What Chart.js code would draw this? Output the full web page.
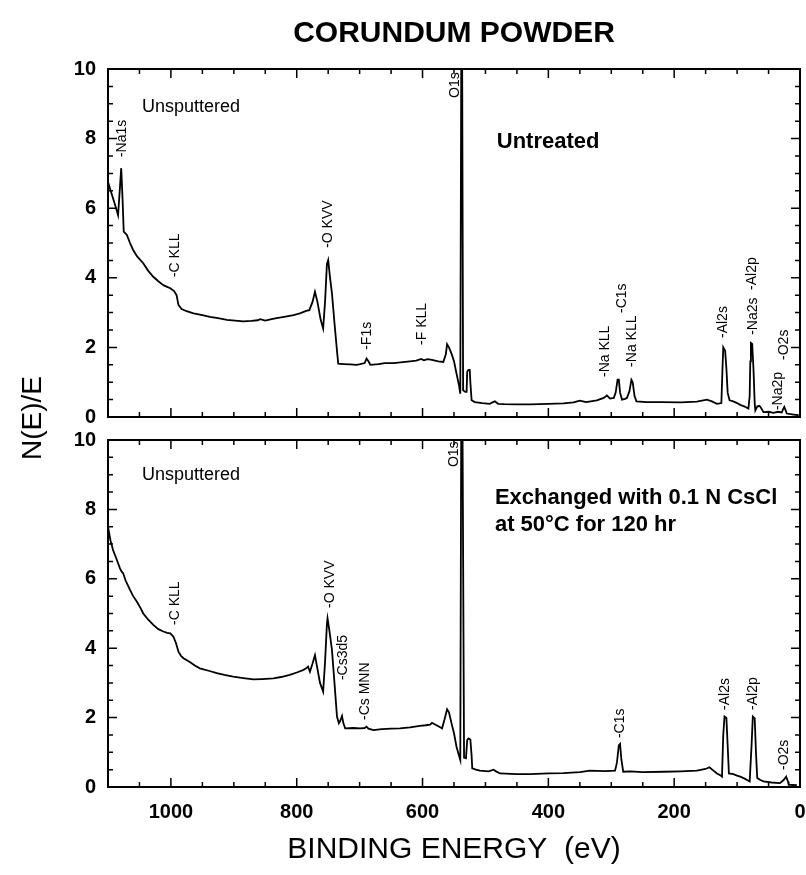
<!DOCTYPE html>
<html>
<head>
<meta charset="utf-8">
<script src="https://cdn.jsdelivr.net/npm/chart.js@4.4.0/dist/chart.umd.min.js"></script>
<style>
  html, body { margin: 0; padding: 0; background: #fff; }
  .panel { position: absolute; left: 0; top: 0; width: 806px; height: 875px; }
</style>
</head>
<body>
<div class="panel"><canvas id="untreated"></canvas></div>
<div class="panel"><canvas id="exchanged"></canvas></div>
<script>
// Binding energy (eV) and N(E)/E
const untreatedEnergy = [
  1100, 1094, 1088, 1084, 1081, 1079, 1077, 1075, 1070, 1065, 1060, 1054, 1044, 1036, 1028, 1020, 1012, 1006,
  1001, 995, 991, 988, 983, 975, 964, 950, 938, 925, 911, 898, 885, 872, 862, 858, 850, 840, 832, 820,
  805, 795, 785, 780, 775, 771, 767, 762, 758, 755, 752, 750, 747, 744, 740, 736, 734, 726, 715, 705,
  699, 692, 689, 686, 683, 670, 660, 646, 635, 620, 610, 602, 598, 592, 585, 575, 567, 563, 561, 558,
  554, 550, 546, 542, 540, 538.5, 537, 535.5, 532, 530, 529, 527, 525, 524, 522, 517, 505, 493, 488, 485,
  480, 470, 450, 429, 400, 376, 360, 350, 340, 323, 312, 307, 302, 296, 293, 290, 288, 286, 283, 278,
  275, 271, 268, 266, 263, 260, 244, 220, 190, 164, 148, 140, 132, 125, 123, 122, 119, 117, 115, 112,
  106, 100, 95, 88, 82, 80, 79, 78, 76, 74, 72, 71, 68, 65, 63, 58, 50, 42, 35, 29,
  27, 25, 23, 21, 10, 2,
];
const untreatedCounts = [
  6.75, 6.4, 6.05, 5.8, 6.6, 7.15, 6.33, 5.33, 5.23, 5.0, 4.8, 4.62, 4.42, 4.2, 4.03, 3.9, 3.79, 3.74,
  3.7, 3.62, 3.5, 3.22, 3.1, 3.04, 2.98, 2.93, 2.88, 2.84, 2.79, 2.77, 2.75, 2.76, 2.78, 2.81, 2.77, 2.81, 2.84, 2.88,
  2.93, 2.98, 3.05, 3.07, 3.3, 3.6, 3.3, 2.8, 2.54, 3.3, 4.4, 4.51, 4.0, 3.55, 2.7, 1.9, 1.53, 1.52, 1.51, 1.5,
  1.52, 1.55, 1.68, 1.6, 1.5, 1.52, 1.55, 1.55, 1.57, 1.6, 1.62, 1.67, 1.63, 1.66, 1.64, 1.6, 1.58, 1.8, 2.09, 2.0,
  1.82, 1.6, 1.25, 0.9, 0.67, 10, 10, 0.77, 0.72, 0.72, 1.3, 1.35, 1.35, 1.0, 0.48, 0.43, 0.4, 0.38, 0.43, 0.45,
  0.38, 0.37, 0.36, 0.36, 0.38, 0.39, 0.42, 0.47, 0.43, 0.48, 0.55, 0.62, 0.53, 0.55, 0.7, 1.07, 1.07, 0.7, 0.5, 0.52,
  0.55, 0.75, 1.07, 1.0, 0.6, 0.45, 0.43, 0.43, 0.42, 0.44, 0.5, 0.45, 0.38, 0.4, 1.5, 2.0, 1.9, 1.4, 0.7, 0.48,
  0.45, 0.4, 0.35, 0.3, 0.24, 0.6, 1.6, 2.13, 2.1, 1.4, 0.4, 0.19, 0.3, 0.32, 0.29, 0.14, 0.15, 0.12, 0.15, 0.13,
  0.22, 0.29, 0.2, 0.1, 0.07, 0.05,
];

const exchangedEnergy = [
  1100, 1096, 1092, 1086, 1081, 1078, 1076, 1072, 1065, 1060, 1054, 1048, 1044, 1036, 1028, 1020, 1012, 1006,
  1001, 996, 992, 988, 984, 980, 970, 962, 954, 940, 927, 915, 901, 885, 869, 855, 837, 825, 811, 800,
  790, 785, 782, 779, 775, 771, 768, 763, 758, 755, 752, 751, 748, 744, 740, 736, 733, 731, 728, 726,
  723, 710, 699, 692, 689, 686, 678, 665, 650, 636, 620, 604, 595, 588, 585, 580, 572, 569, 565, 561,
  558, 554, 550, 546, 542, 540, 538.5, 536.5, 534, 531, 529, 527, 524, 522, 521, 515, 509, 495, 487, 483,
  477, 450, 429, 400, 376, 350, 334, 310, 294, 291, 288, 286, 284, 281, 270, 250, 217, 190, 164, 150,
  144, 138, 132, 126, 124, 122, 120, 117, 115, 113, 106, 100, 95, 88, 82, 80, 77, 75, 72, 70,
  68, 63, 58, 45, 32, 26, 22, 19, 18, 5,
];
const exchangedCounts = [
  7.5, 7.1, 6.83, 6.55, 6.3, 6.2, 6.16, 5.95, 5.68, 5.5, 5.34, 5.15, 5.0, 4.82, 4.67, 4.55, 4.48, 4.44,
  4.43, 4.33, 4.15, 3.9, 3.78, 3.71, 3.6, 3.5, 3.42, 3.35, 3.28, 3.23, 3.18, 3.14, 3.1, 3.11, 3.13, 3.17, 3.23, 3.3,
  3.37, 3.42, 3.47, 3.32, 3.55, 3.8, 3.5, 3.0, 2.75, 3.6, 4.7, 4.86, 4.5, 3.95, 3.0, 2.03, 1.84, 1.9, 2.05, 1.85,
  1.69, 1.7, 1.69, 1.7, 1.74, 1.68, 1.64, 1.67, 1.68, 1.69, 1.72, 1.76, 1.78, 1.8, 1.85, 1.8, 1.72, 1.69, 1.95, 2.24,
  2.15, 1.84, 1.55, 1.16, 0.9, 0.78, 10.5, 10.5, 0.85, 0.83, 1.35, 1.4, 1.37, 0.9, 0.54, 0.5, 0.47, 0.45, 0.5, 0.45,
  0.39, 0.37, 0.37, 0.39, 0.4, 0.43, 0.47, 0.46, 0.47, 0.7, 1.2, 1.24, 0.8, 0.44, 0.45, 0.43, 0.44, 0.45, 0.47, 0.52,
  0.57, 0.48, 0.39, 0.33, 0.3, 1.5, 2.03, 1.99, 1.2, 0.39, 0.37, 0.33, 0.3, 0.24, 0.18, 0.16, 1.2, 2.03, 1.98, 1.0,
  0.26, 0.2, 0.16, 0.13, 0.11, 0.2, 0.3, 0.15, 0.07, 0.05,
];

// Peak labels: text, energy of the label and the N(E)/E level where it starts
const untreatedPeakNames = ['-Na1s', '-C KLL', '-O KVV', '-F1s', '-F KLL', 'O1s', '-Na KLL', '-C1s', '-Na KLL', '-Al2s', '-Al2p', '-Na2s', '-O2s', '-Na2p'];
const untreatedPeakEnergy = [1078, 993, 750, 688, 601, 548, 310, 283, 267, 122, 76, 74, 25, 35];
const untreatedPeakLevel = [7.47, 4.02, 4.86, 1.93, 2.07, 9.17, 1.15, 2.99, 1.44, 2.27, 3.65, 2.36, 1.64, 0.2];

const exchangedPeakNames = ['-C KLL', '-O KVV', '-Cs3d5', '-Cs MNN', 'O1s', '-C1s', '-Al2s', '-Al2p', '-O2s'];
const exchangedPeakEnergy = [993, 747, 726, 691, 550, 286, 119, 75, 25];
const exchangedPeakLevel = [4.67, 5.16, 3.08, 1.93, 9.22, 1.41, 2.22, 2.22, 0.49];

const untreatedNotes = ['Unsputtered', 'Untreated'];
const untreatedNoteEnergy = [1046, 482];
const untreatedNoteLevel = [8.9, 7.9];

const exchangedNotes = ['Unsputtered', 'Exchanged with 0.1 N CsCl', 'at 50°C for 120 hr'];
const exchangedNoteEnergy = [1046, 485, 485];
const exchangedNoteLevel = [9.0, 8.33, 7.55];

const FONT = '"Liberation Sans", Arial, Helvetica, sans-serif';

const toPoints = (xs, ys) => xs.map((x, i) => ({ x, y: ys[i] }));

// Box round the plot with inward ticks on all four sides
const frameTicks = {
  id: 'frameTicks',
  afterDatasetsDraw(chart) {
    const { ctx, chartArea: { left, right, top, bottom }, scales: { x, y } } = chart;
    ctx.save();
    ctx.strokeStyle = '#000';
    ctx.lineWidth = 2;
    ctx.strokeRect(left, top, right - left, bottom - top);
    ctx.lineWidth = 1.5;
    ctx.beginPath();
    for (let e = 50; e < 1100; e += 50) {
      const px = x.getPixelForValue(e);
      const len = e % 200 === 0 ? 9 : 5;
      ctx.moveTo(px, bottom); ctx.lineTo(px, bottom - len);
      ctx.moveTo(px, top); ctx.lineTo(px, top + len);
    }
    for (let v = 0.5; v < 10; v += 0.5) {
      const py = y.getPixelForValue(v);
      const len = v % 2 === 0 ? 9 : 5;
      ctx.moveTo(left, py); ctx.lineTo(left + len, py);
      ctx.moveTo(right, py); ctx.lineTo(right - len, py);
    }
    ctx.stroke();
    ctx.restore();
  },
};

// Vertical peak names and the horizontal notes inside each panel
const peakLabels = {
  id: 'peakLabels',
  afterDatasetsDraw(chart, args, opts) {
    const { ctx, scales: { x, y } } = chart;
    ctx.save();
    ctx.fillStyle = '#000';
    ctx.textBaseline = 'middle';
    ctx.textAlign = 'left';
    ctx.font = '14px ' + FONT;
    opts.names.forEach((name, i) => {
      ctx.save();
      ctx.translate(x.getPixelForValue(opts.energy[i]), y.getPixelForValue(opts.level[i]));
      ctx.rotate(-Math.PI / 2);
      ctx.fillText(name, 0, 0);
      ctx.restore();
    });
    opts.notes.forEach((note, i) => {
      ctx.font = (i === 0 ? '18px ' : 'bold 22px ') + FONT;
      ctx.fillText(note, x.getPixelForValue(opts.noteEnergy[i]), y.getPixelForValue(opts.noteLevel[i]));
    });
    if (opts.yTitle) {
      ctx.font = '28px ' + FONT;
      ctx.textAlign = 'center';
      ctx.translate(33, 418);
      ctx.rotate(-Math.PI / 2);
      ctx.fillText(opts.yTitle, 0, 0);
    }
    ctx.restore();
  },
};

const lineDataset = (data) => ({
  data,
  showLine: true,
  borderColor: '#000',
  borderWidth: 1.8,
  tension: 0,
  pointRadius: 0,
  pointHoverRadius: 0,
});

const yScale = {
  min: 0,
  max: 10,
  ticks: { stepSize: 2, color: '#000', padding: 12, font: { family: FONT, size: 20, weight: 'bold' } },
  grid: { display: false, drawTicks: false },
  border: { display: false },
  afterFit: (scale) => { scale.width = 108; },
};

// Top panel: untreated powder
new Chart(document.getElementById('untreated'), {
  type: 'scatter',
  data: { datasets: [lineDataset(toPoints(untreatedEnergy, untreatedCounts))] },
  options: {
    animation: false,
    responsive: true,
    maintainAspectRatio: false,
    layout: { padding: { top: 0, left: 0, right: 6, bottom: 458 } },
    scales: {
      x: { type: 'linear', reverse: true, min: 0, max: 1100, display: false },
      y: yScale,
    },
    plugins: {
      legend: { display: false },
      tooltip: { enabled: false },
      title: {
        display: true,
        text: 'CORUNDUM POWDER',
        fullSize: false,
        color: '#000',
        font: { family: FONT, size: 30, weight: 'bold' },
        padding: { top: 16, bottom: 17 },
      },
      peakLabels: {
        names: untreatedPeakNames, energy: untreatedPeakEnergy, level: untreatedPeakLevel,
        notes: untreatedNotes, noteEnergy: untreatedNoteEnergy, noteLevel: untreatedNoteLevel,
        yTitle: 'N(E)/E',
      },
    },
  },
  plugins: [frameTicks, peakLabels],
});

// Bottom panel: exchanged with CsCl
new Chart(document.getElementById('exchanged'), {
  type: 'scatter',
  data: { datasets: [lineDataset(toPoints(exchangedEnergy, exchangedCounts))] },
  options: {
    animation: false,
    responsive: true,
    maintainAspectRatio: false,
    layout: { padding: { top: 440, left: 0, right: 6, bottom: 0 } },
    scales: {
      x: {
        type: 'linear',
        reverse: true,
        min: 0,
        max: 1100,
        ticks: {
          stepSize: 200,
          includeBounds: false,
          autoSkip: false,
          maxRotation: 0,
          color: '#000',
          padding: 13,
          font: { family: FONT, size: 20, weight: 'bold' },
          callback: (v) => String(v),
        },
        grid: { display: false, drawTicks: false },
        border: { display: false },
        title: {
          display: true,
          text: 'BINDING ENERGY  (eV)',
          color: '#000',
          font: { family: FONT, size: 30 },
          padding: { top: 0, bottom: 7 },
        },
        afterFit: (scale) => {
          scale.height = 88;
          scale.paddingLeft = 0;
          scale.paddingRight = 0;
        },
      },
      y: yScale,
    },
    plugins: {
      legend: { display: false },
      tooltip: { enabled: false },
      peakLabels: {
        names: exchangedPeakNames, energy: exchangedPeakEnergy, level: exchangedPeakLevel,
        notes: exchangedNotes, noteEnergy: exchangedNoteEnergy, noteLevel: exchangedNoteLevel,
      },
    },
  },
  plugins: [frameTicks, peakLabels],
});
</script>
</body>
</html>
